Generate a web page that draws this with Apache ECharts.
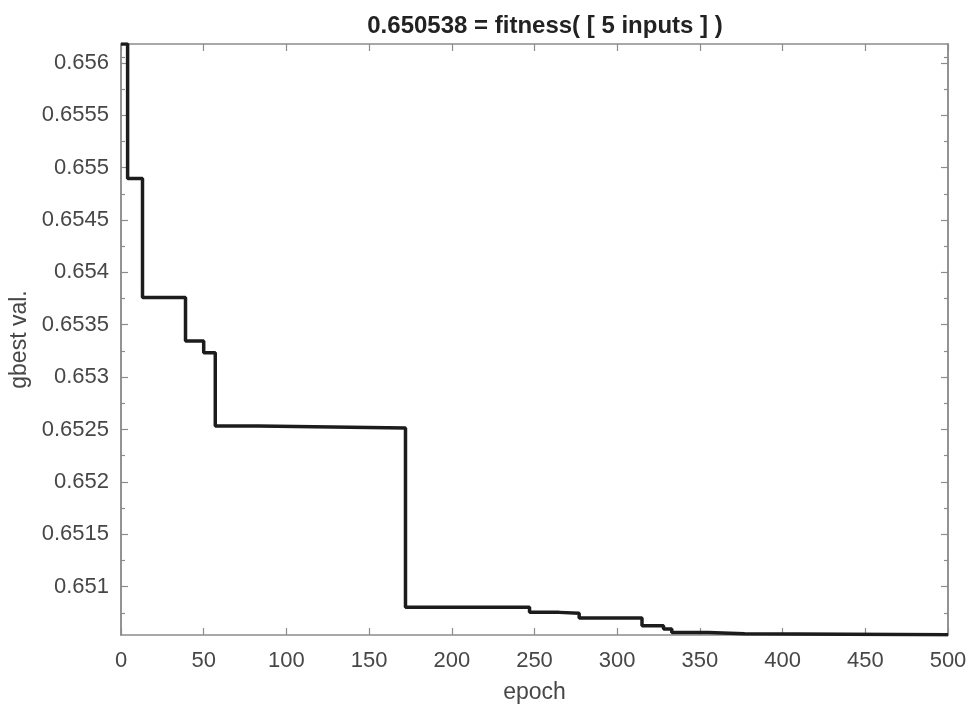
<!DOCTYPE html>
<html>
<head>
<meta charset="utf-8">
<script src="https://cdn.jsdelivr.net/npm/echarts@6/dist/echarts.min.js"></script>
<style>
  html, body { margin: 0; padding: 0; background: #fff; }
  #chart { width: 979px; height: 706px; }
</style>
</head>
<body>
<div id="chart"></div>
<script>
// epochs where gbest changes, and the value held from that epoch on
const epochs = [0, 4, 13, 39, 50, 57, 83, 172, 247, 265, 277, 315, 328, 333, 355, 377, 500]
const gbest = [0.65618, 0.654895, 0.653759, 0.653344, 0.653233, 0.652534, 0.652515, 0.650802,
  0.650754, 0.650746, 0.6507, 0.650627, 0.650595, 0.650563, 0.65055, 0.650541, 0.650538]
const yTicks = [0.651, 0.6515, 0.652, 0.6525, 0.653, 0.6535, 0.654, 0.6545, 0.655, 0.6555, 0.656]
const yMinorTicks = [0.65075, 0.65125, 0.65175, 0.65225, 0.65275, 0.65325, 0.65375, 0.65425,
  0.65475, 0.65525, 0.65575, 0.65605]

const yMin = 0.650538
const yMax = 0.65618
const font = 'Liberation Sans, Arial, Helvetica, sans-serif'
const axisColor = '#8c8c8c'
const textColor = '#474747'

const chart = echarts.init(document.getElementById('chart'), null, {renderer: 'canvas'})

const yAxisBase = (pos, ticks, len, labels) => ({
  type: 'value',
  position: pos,
  min: yMin,
  max: yMax,
  axisLine: {show: true, onZero: false, lineStyle: {color: axisColor, width: 1.5}},
  axisTick: {show: true, inside: true, length: len, customValues: ticks,
    lineStyle: {color: axisColor, width: 1.2}},
  axisLabel: labels ? {
    show: true, customValues: yTicks, margin: 12, color: textColor,
    fontFamily: font, fontSize: 22,
    formatter: v => String(+v.toFixed(5))
  } : {show: false},
  splitLine: {show: false}
})

chart.setOption({
  backgroundColor: '#ffffff',
  animation: false,
  title: {
    text: '0.650538 = fitness( [ 5 inputs ] )',
    left: 540,
    top: 9,
    textAlign: 'center',
    textStyle: {fontFamily: font, fontSize: 24, fontWeight: 'bold', color: '#222'}
  },
  grid: {left: 121, right: 31, top: 44, bottom: 71, containLabel: false, outerBoundsMode: 'none'},
  xAxis: [
    {
      type: 'value',
      position: 'bottom',
      min: 0, max: 500, interval: 50,
      name: 'epoch',
      nameLocation: 'middle',
      nameGap: 46,
      nameTextStyle: {fontFamily: font, fontSize: 23, color: textColor},
      axisLine: {show: true, onZero: false, lineStyle: {color: axisColor, width: 1.5}},
      axisTick: {show: true, inside: true, length: 7, lineStyle: {color: axisColor, width: 1.2}},
      axisLabel: {margin: 15, color: textColor, fontFamily: font, fontSize: 22},
      splitLine: {show: false}
    },
    {
      type: 'value',
      position: 'top',
      min: 0, max: 500, interval: 50,
      axisLine: {show: true, onZero: false, lineStyle: {color: axisColor, width: 1.5}},
      axisTick: {show: true, inside: true, length: 7, lineStyle: {color: axisColor, width: 1.2}},
      axisLabel: {show: false},
      splitLine: {show: false}
    }
  ],
  yAxis: [
    Object.assign(yAxisBase('left', yTicks, 7, true), {
      name: 'gbest val.',
      nameLocation: 'middle',
      nameGap: 88,
      nameRotate: 90,
      nameTextStyle: {fontFamily: font, fontSize: 23, color: textColor}
    }),
    yAxisBase('left', yMinorTicks, 4, false),
    yAxisBase('right', yTicks, 7, false),
    yAxisBase('right', yMinorTicks, 4, false)
  ],
  series: [
    {
      type: 'line',
      step: 'end',
      xAxisIndex: 0,
      yAxisIndex: 0,
      data: epochs.map((e, i) => [e, gbest[i]]),
      symbol: 'none',
      lineStyle: {color: '#1c1c1c', width: 3.5},
      clip: true
    }
  ]
})
</script>
</body>
</html>
